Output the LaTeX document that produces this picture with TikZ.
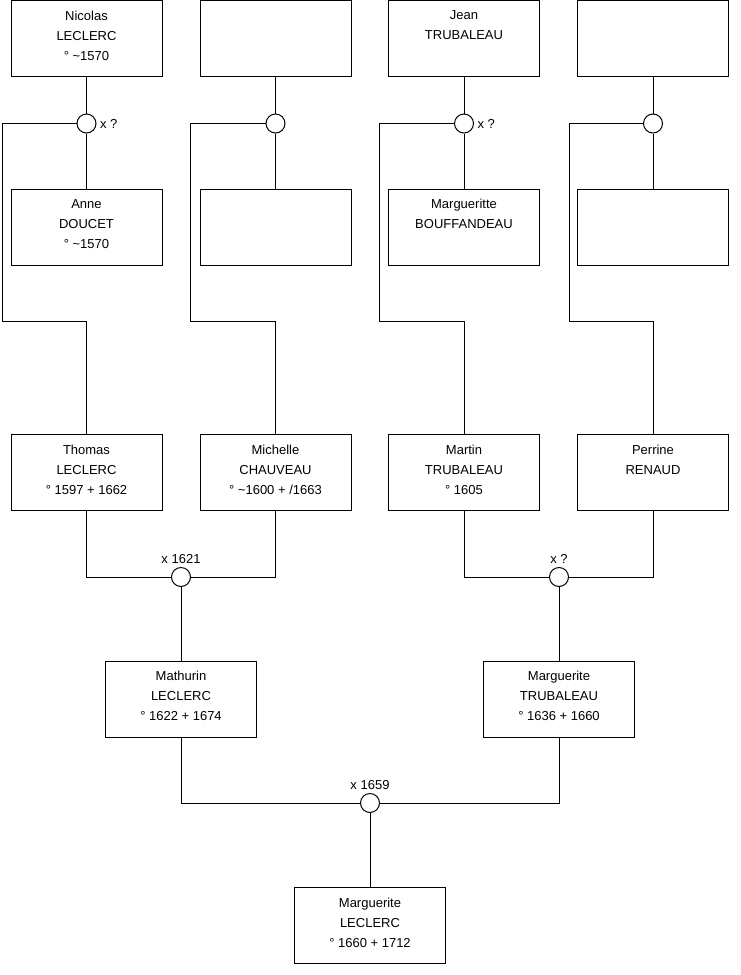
\documentclass[tikz,border=0pt]{standalone}
\usepackage{fontspec}
\setmainfont{Liberation Sans}
\usetikzlibrary{positioning}

\begin{document}
\begin{tikzpicture}[x=1pt,y=-1pt,font=\fontsize{13}{20}\selectfont,
        person/.style={draw,line width=1pt,minimum width=151pt,minimum height=76pt,align=center,inner sep=0pt,text depth=6pt},
        union/.style={draw,circle,line width=1pt,minimum size=19pt,inner sep=0pt},
        link/.style={line width=1pt}]
        \useasboundingbox (0,0) rectangle (740,975);
        % grand-parents
        \node[person] (nicolas) at (86.5,38.5) {Nicolas\\LECLERC\\° \textasciitilde1570};
        \node[person] (gp2) at (275.5,38.5) {};
        \node[person] (jean) at (464,38.5) {Jean\\TRUBALEAU\\\mbox{}};
        \node[person] (gp4) at (653,38.5) {};
        \node[union,label={right:x ?}] (u1) at (86.5,123.5) {};
        \node[union] (u2) at (275.5,123.5) {};
        \node[union,label={right:x ?}] (u3) at (464,123.5) {};
        \node[union] (u4) at (653,123.5) {};
        \node[person] (anne) at (86.5,227) {Anne\\DOUCET\\° \textasciitilde1570};
        \node[person] (gm2) at (275.5,227) {};
        \node[person] (margueritte) at (464,227) {Margueritte\\BOUFFANDEAU\\\mbox{}};
        \node[person] (gm4) at (653,227) {};
        % parents
        \node[person] (thomas) at (86.5,472.5) {Thomas\\LECLERC\\° 1597 + 1662};
        \node[person] (michelle) at (275.5,472.5) {Michelle\\CHAUVEAU\\° \textasciitilde1600 + /1663};
        \node[person] (martin) at (464,472.5) {Martin\\TRUBALEAU\\° 1605};
        \node[person] (perrine) at (653,472.5) {Perrine\\RENAUD\\\mbox{}};
        \node[union,label={above:x 1621}] (u5) at (181,577) {};
        \node[union,label={above:x ?}] (u6) at (559,577) {};
        \node[person] (mathurin) at (181,699) {Mathurin\\LECLERC\\° 1622 + 1674};
        \node[person] (marguerite) at (559,699) {Marguerite\\TRUBALEAU\\° 1636 + 1660};
        \node[union,label={above:x 1659}] (u7) at (370,803) {};
        \node[person] (margleclerc) at (370,925.5) {Marguerite\\LECLERC\\° 1660 + 1712};
        % links
        \draw[link] (nicolas)--(u1)--(anne); \draw[link] (gp2)--(u2)--(gm2);
        \draw[link] (jean)--(u3)--(margueritte); \draw[link] (gp4)--(u4)--(gm4);
        \draw[link] (u1.west) -| (2,321) -| (thomas.north);
        \draw[link] (u2.west) -| (190.5,321) -| (michelle.north);
        \draw[link] (u3.west) -| (379.5,321) -| (martin.north);
        \draw[link] (u4.west) -| (569,321) -| (perrine.north);
        \draw[link] (thomas.south) |- (u5.west); \draw[link] (michelle.south) |- (u5.east);
        \draw[link] (martin.south) |- (u6.west); \draw[link] (perrine.south) |- (u6.east);
        \draw[link] (u5)--(mathurin); \draw[link] (u6)--(marguerite);
        \draw[link] (mathurin.south) |- (u7.west); \draw[link] (marguerite.south) |- (u7.east);
        \draw[link] (u7)--(margleclerc);
\end{tikzpicture}
\end{document}
